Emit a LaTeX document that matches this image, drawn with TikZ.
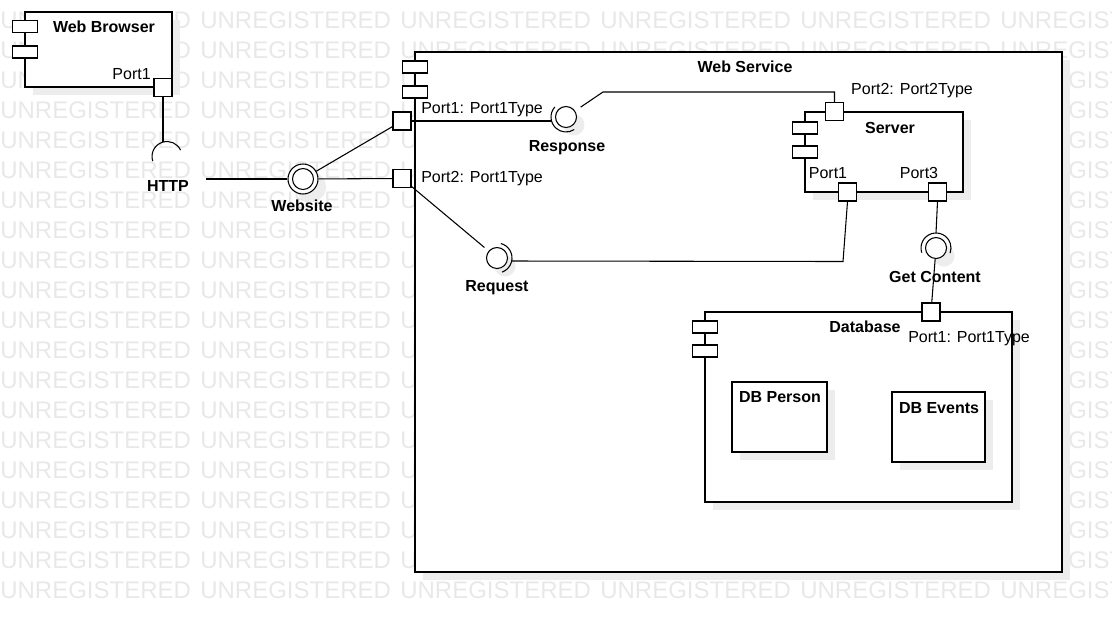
\documentclass[tikz,border=0pt]{standalone}
\usepackage{fontspec}
\setmainfont{Liberation Sans}
\usetikzlibrary{shadows}
\begin{document}
\begin{tikzpicture}[x=0.75pt,y=-0.75pt,
  shad/.style={drop shadow={shadow xshift=6pt,shadow yshift=-6pt,fill=black!7,opacity=1}},
  box/.style={draw=black,line width=1pt,fill=white,inner sep=0pt,shad},
  icon/.style={draw=black,line width=0.8pt,fill=white,minimum width=18.75pt,minimum height=9pt,inner sep=0pt},
  port/.style={draw=black,line width=0.8pt,fill=white,minimum size=13.5pt,inner sep=0pt},
  ball/.style={circle,draw=black,line width=0.8pt,fill=white,minimum size=15.75pt,inner sep=0pt,shad},
  conn/.style={draw=black,line width=0.8pt},
  sock/.style={draw=black,line width=0.8pt},
  lbl/.style={inner sep=0pt,text height=8.6pt,text depth=0pt,font=\fontsize{12}{14}\selectfont},
  blbl/.style={lbl,font=\fontsize{12}{14}\selectfont\bfseries},
  wm/.style={inner sep=0pt,anchor=base west,text=black!9,font=\fontsize{18}{20}\selectfont}]
\useasboundingbox (0,0) rectangle (1112,622);
\clip (0,0) rectangle (1112,622);
% watermark (copies fully hidden under the Web Service box are left out)
\foreach \r in {0,...,19}{
  \foreach \c in {0,...,5}{
    \pgfmathtruncatemacro\wmhid{(\r>1)&&(\r<19)&&(\c>2)&&(\c<5)}
    \ifnum\wmhid=0
      \node[wm] (wm-\r-\c) at (\c*200,28.5+\r*30) {UNREGISTERED};
    \fi
  }
}
% boxes
\node[box,minimum width=110.25pt,minimum height=56.25pt] (browser) at (98.5,49.5) {};
\node[box,minimum width=485.25pt,minimum height=390pt] (ws) at (738.5,312) {};
\node[box,minimum width=118.5pt,minimum height=60pt] (server) at (884,152) {};
\node[box,minimum width=230.25pt,minimum height=142.5pt] (db) at (858.5,407) {};
\node[box,minimum width=71.25pt,minimum height=52.5pt] (dbperson) at (779.5,417) {};
\node[box,minimum width=69.75pt,minimum height=52.5pt] (dbevents) at (938.5,427) {};
% component icons
\node[icon] (bi1) at (25,26.5) {};
\node[icon] (bi2) at (25,52) {};
\node[icon] (wi1) at (415,67) {};
\node[icon] (wi2) at (415,92) {};
\node[icon] (si1) at (805,128) {};
\node[icon] (si2) at (805,152) {};
\node[icon] (di1) at (705,327) {};
\node[icon] (di2) at (705,351) {};
% ports
\node[port] (bp1) at (163,87.5) {};
\node[port] (wsp1) at (402,121) {};
\node[port] (wsp2) at (402,178.5) {};
\node[port] (sp2) at (834.5,111.5) {};
\node[port] (sp1) at (847.5,192) {};
\node[port] (sp3) at (937.5,192) {};
\node[port] (dbp1) at (931,312) {};
% interfaces
\node[ball,minimum size=22.5pt] (web) at (303,179) {};
\node[circle,draw=black,line width=0.8pt,minimum size=15.75pt,inner sep=0pt] (webin) at (303,179) {};
\node[ball] (resp) at (566,117) {};
\node[ball] (req) at (497,258) {};
\node[ball] (gc) at (936,248) {};
\coordinate (httpc) at (167,156.5);
% sockets
\draw[sock] ([shift={(198:11.25pt)}]httpc) arc[start angle=198,end angle=25,radius=11.25pt];
\draw[sock] ([shift={(138:11.25pt)}]resp.center) arc[start angle=138,end angle=303,radius=11.25pt];
\draw[sock] ([shift={(75:11.25pt)}]req.center) arc[start angle=75,end angle=-70,radius=11.25pt];
\draw[sock] ([shift={(198:11.25pt)}]gc.center) arc[start angle=198,end angle=-20,radius=11.25pt];
% connector points
\coordinate (httpT) at (163,142);
\coordinate (httpR) at (206,179);
\coordinate (respL) at (551.5,121);
\coordinate (respK) at (603,92);
\coordinate (reqR) at (511.7,261);
\coordinate (reqK) at (843,261.5);
\coordinate (gcT) at (936,233);
% connectors
\draw[conn] (bp1.south) -- (httpT);
\draw[conn] (httpR) -- (web);
\draw[conn] (web) -- (wsp2);
\draw[conn] (web) -- (wsp1);
\draw[conn] (wsp1.east) -- (respL);
\draw[conn,shorten <=5pt] (resp) -- (respK) -| (sp2.north);
\draw[conn,shorten >=4pt] (wsp2) -- (req);
\draw[conn] (reqR) -- (reqK) -- (sp1.south);
\draw[conn] (sp3.south) -- (gcT);
\draw[conn] (gc) -- (dbp1);
% labels
\node[blbl] (t-browser) at (104,27) {Web Browser};
\node[lbl,anchor=east] (t-bp1) at (151,74) {Port1};
\node[blbl] (t-http) at (168,186) {HTTP};
\node[blbl] (t-web) at (302,206) {Website};
\node[blbl] (t-ws) at (745,67) {Web Service};
\node[lbl,anchor=west] (t-wsp1) at (421,108) {Port1: Port1Type};
\node[lbl,anchor=west] (t-wsp2) at (421,177) {Port2: Port1Type};
\node[blbl] (t-resp) at (567,146) {Response};
\node[blbl] (t-req) at (497,286) {Request};
\node[lbl] (t-sp2) at (912,89) {Port2: Port2Type};
\node[blbl] (t-server) at (890,128) {Server};
\node[lbl] (t-sp1) at (828,173) {Port1};
\node[lbl] (t-sp3) at (919,173) {Port3};
\node[blbl] (t-gc) at (935,277) {Get Content};
\node[blbl] (t-db) at (865,327) {Database};
\node[lbl,anchor=west] (t-dbp1) at (908,337) {Port1: Port1Type};
\node[blbl] (t-dbperson) at (780,397) {DB Person};
\node[blbl] (t-dbevents) at (939,408) {DB Events};
\end{tikzpicture}
\end{document}
